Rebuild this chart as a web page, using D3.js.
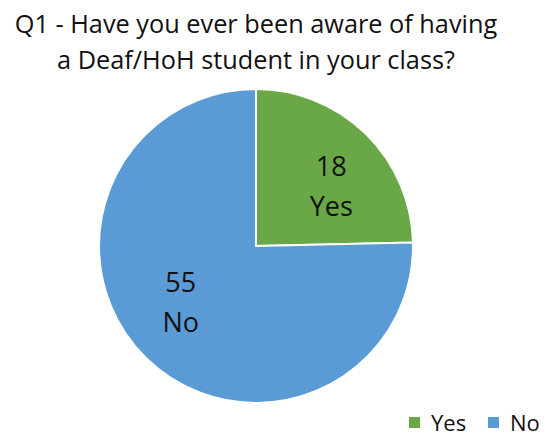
<!DOCTYPE html>
<html>
<head>
<meta charset="utf-8">
<script src="https://cdn.jsdelivr.net/npm/d3@7"></script>
<style>
  html, body { margin: 0; padding: 0; background: #fff; }
  svg { display: block; font-family: "Open Sans", "Lato", sans-serif; }
</style>
</head>
<body>
<svg id="chart" width="545" height="436"></svg>
<script>
// Survey answers to Q1
const categories = ["Yes", "No"];
const counts = [18, 55];
const titleLines = ["Q1 - Have you ever been aware of having", "a Deaf/HoH student in your class?"];

const colors = d3.scaleOrdinal().domain(categories).range(["#6aa746", "#5b9bd5"]);

const svg = d3.select("#chart");
const cx = 256, cy = 246, radius = 157;

// Title
svg.append("g").selectAll("text")
  .data(titleLines)
  .join("text")
  .attr("x", 256)
  .attr("y", (d, i) => 33 + i * 36)
  .attr("text-anchor", "middle")
  .attr("font-size", 25.3)
  .attr("fill", "#111")
  .text(d => d);

const data = categories.map((c, i) => ({ category: c, value: counts[i] }));

const pie = d3.pie().value(d => d.value).sort(null);
const arcs = pie(data);
const arc = d3.arc().innerRadius(0).outerRadius(radius);

const g = svg.append("g").attr("transform", `translate(${cx},${cy})`);

g.selectAll("path")
  .data(arcs)
  .join("path")
  .attr("d", arc)
  .attr("fill", d => colors(d.data.category))
  .attr("stroke", "#fff")
  .attr("stroke-width", 2)
  .attr("stroke-linejoin", "miter");

// Data labels: value above category, placed inside each slice
const labelRadius = 95, labelShift = 0.14;
const labels = g.selectAll("g.label")
  .data(arcs)
  .join("g")
  .attr("class", "label")
  .attr("transform", d => {
    const a = (d.startAngle + d.endAngle) / 2 + labelShift;
    return `translate(${labelRadius * Math.sin(a)},${-labelRadius * Math.cos(a)})`;
  });

labels.append("text")
  .attr("text-anchor", "middle")
  .attr("y", -12)
  .attr("font-size", 27)
  .attr("fill", "#111")
  .text(d => d.data.value);

labels.append("text")
  .attr("text-anchor", "middle")
  .attr("y", 28)
  .attr("font-size", 27)
  .attr("fill", "#111")
  .text(d => d.data.category);

// Legend
const legendX = [409, 488];
const legend = svg.append("g").selectAll("g")
  .data(categories)
  .join("g")
  .attr("transform", (d, i) => `translate(${legendX[i]},417)`);

legend.append("rect")
  .attr("width", 11)
  .attr("height", 11)
  .attr("fill", d => colors(d));

legend.append("text")
  .attr("x", 22)
  .attr("y", 14)
  .attr("font-size", 22)
  .attr("fill", "#111")
  .text(d => d);
</script>
</body>
</html>
